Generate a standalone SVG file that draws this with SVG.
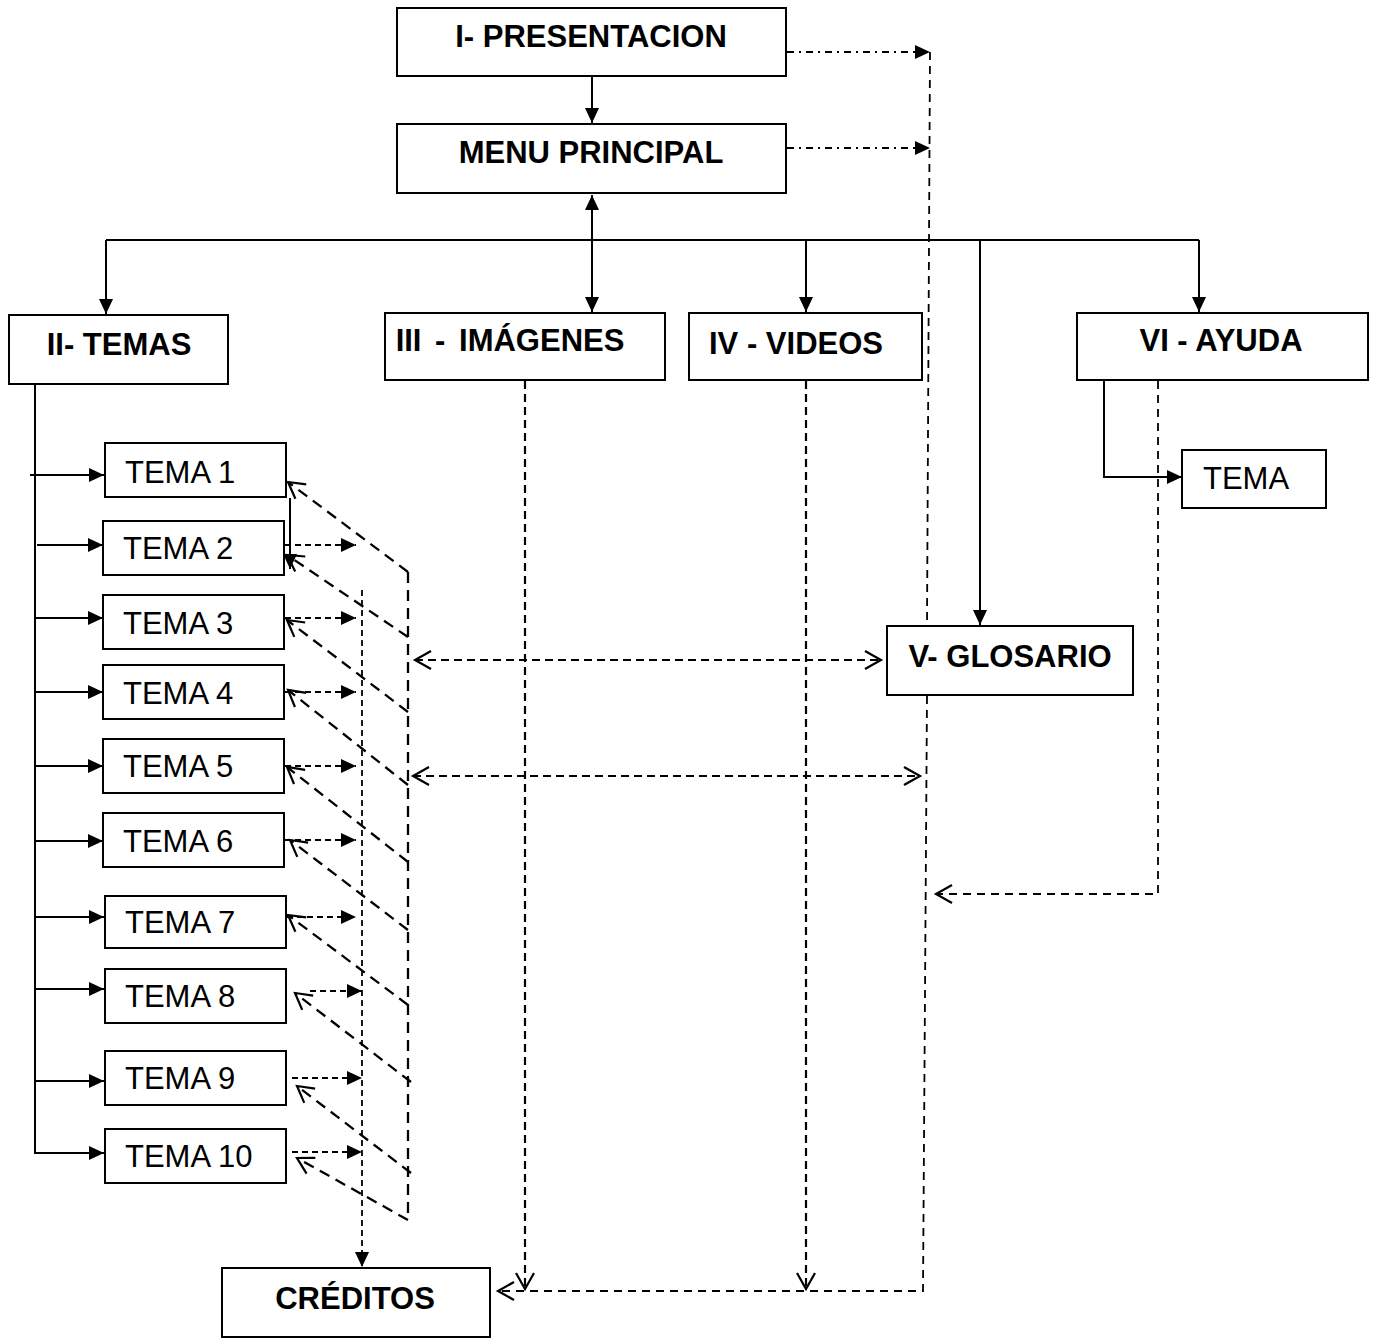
<svg xmlns="http://www.w3.org/2000/svg" width="1377" height="1339" viewBox="0 0 1377 1339">
  <style>
    rect.box { fill: #fff; stroke: #000; stroke-width: 2; }
    text { font-family: "Liberation Sans", Arial, sans-serif; fill: #000; }
    text.h { font-size: 31px; font-weight: bold; text-anchor: middle; }
    text.t { font-size: 31px; }
    .solid { stroke: #000; stroke-width: 2; fill: none; }
    .dash { stroke: #000; stroke-width: 2.2; fill: none; stroke-dasharray: 8 5; }
    .diag { stroke: #000; stroke-width: 2.3; fill: none; stroke-dasharray: 11 7; }
    .fine { stroke: #000; stroke-width: 1.8; fill: none; stroke-dasharray: 6 4; }
    .side { stroke: #000; stroke-width: 1.8; fill: none; stroke-dasharray: 8 6; }
    .dashdot { stroke: #000; stroke-width: 2; fill: none; stroke-dasharray: 7 5 2 5; }
  </style>
  <defs>
    <marker id="fill" viewBox="0 0 15 14" refX="15" refY="7" markerWidth="15" markerHeight="14" markerUnits="userSpaceOnUse" orient="auto-start-reverse">
      <path d="M0,0 L15,7 L0,14 z" fill="#000" stroke="none"/>
    </marker>
    <marker id="open" viewBox="-2 -2 20 22" refX="16" refY="9" markerWidth="20" markerHeight="22" markerUnits="userSpaceOnUse" orient="auto-start-reverse" overflow="visible">
      <path d="M0,0 L16,9 L0,18" fill="none" stroke="#000" stroke-width="2.2" stroke-dasharray="none"/>
    </marker>
  </defs>

  <g id="connectors">
    <!-- main menu chain -->
    <line class="solid" x1="592" y1="77" x2="592" y2="123" marker-end="url(#fill)"/>
    <line class="solid" x1="592" y1="195" x2="592" y2="312" marker-start="url(#fill)" marker-end="url(#fill)"/>
    <line class="solid" x1="106" y1="240" x2="1199" y2="240"/>
    <line class="solid" x1="106" y1="240" x2="106" y2="314" marker-end="url(#fill)"/>
    <line class="solid" x1="806" y1="240" x2="806" y2="312" marker-end="url(#fill)"/>
    <line class="solid" x1="1199" y1="240" x2="1199" y2="312" marker-end="url(#fill)"/>
    <line class="solid" x1="980" y1="240" x2="980" y2="625" marker-end="url(#fill)"/>

    <!-- presentation / menu side links -->
    <line class="dashdot" x1="787" y1="52" x2="930" y2="52" marker-end="url(#fill)"/>
    <line class="dashdot" x1="787" y1="148" x2="930" y2="148" marker-end="url(#fill)"/>
    <path class="side" d="M930,52 L927,626"/>
    <path class="side" d="M927,696 L923,1291 L498,1291" marker-end="url(#open)"/>

    <!-- images / videos to credits -->
    <line class="dash" x1="525" y1="381" x2="525" y2="1289" marker-end="url(#open)"/>
    <line class="dash" x1="806" y1="381" x2="806" y2="1289" marker-end="url(#open)"/>

    <!-- glossary links -->
    <line class="dash" x1="415" y1="660" x2="881" y2="660" marker-start="url(#open)" marker-end="url(#open)"/>
    <line class="dash" x1="413" y1="776" x2="920" y2="776" marker-start="url(#open)" marker-end="url(#open)"/>

    <!-- help -->
    <path class="solid" d="M1104,381 L1104,477 L1182,477" marker-end="url(#fill)"/>
    <path class="side" d="M1158,381 L1158,894 L936,894" marker-end="url(#open)"/>

    <!-- themes trunk -->
    <path class="solid" d="M35,385 L35,1153 L104,1153" marker-end="url(#fill)"/>
    <line class="solid" x1="30" y1="475" x2="104" y2="475" marker-end="url(#fill)"/>
    <line class="solid" x1="37" y1="545" x2="103" y2="545" marker-end="url(#fill)"/>
    <line class="solid" x1="35" y1="618" x2="103" y2="618" marker-end="url(#fill)"/>
    <line class="solid" x1="35" y1="692" x2="103" y2="692" marker-end="url(#fill)"/>
    <line class="solid" x1="35" y1="766" x2="103" y2="766" marker-end="url(#fill)"/>
    <line class="solid" x1="35" y1="841" x2="103" y2="841" marker-end="url(#fill)"/>
    <line class="solid" x1="35" y1="917" x2="104" y2="917" marker-end="url(#fill)"/>
    <line class="solid" x1="35" y1="989" x2="104" y2="989" marker-end="url(#fill)"/>
    <line class="solid" x1="35" y1="1081" x2="104" y2="1081" marker-end="url(#fill)"/>
    <line class="solid" x1="290" y1="498" x2="290" y2="569" marker-end="url(#fill)"/>

    <!-- themes to credits -->
    <line class="fine" x1="285" y1="545" x2="356" y2="545" marker-end="url(#fill)"/>
    <line class="fine" x1="285" y1="618" x2="356" y2="618" marker-end="url(#fill)"/>
    <line class="fine" x1="285" y1="692" x2="356" y2="692" marker-end="url(#fill)"/>
    <line class="fine" x1="285" y1="766" x2="356" y2="766" marker-end="url(#fill)"/>
    <line class="fine" x1="285" y1="840" x2="356" y2="840" marker-end="url(#fill)"/>
    <line class="fine" x1="287" y1="917" x2="356" y2="917" marker-end="url(#fill)"/>
    <line class="fine" x1="310" y1="991" x2="362" y2="991" marker-end="url(#fill)"/>
    <line class="fine" x1="292" y1="1078" x2="362" y2="1078" marker-end="url(#fill)"/>
    <line class="fine" x1="292" y1="1152" x2="362" y2="1152" marker-end="url(#fill)"/>
    <line class="fine" x1="362" y1="590" x2="362" y2="1267" marker-end="url(#fill)"/>

    <!-- themes to glossary -->
    <line class="diag" x1="408" y1="572" x2="408" y2="1220"/>
    <line class="diag" x1="408" y1="572" x2="288" y2="482" marker-end="url(#open)"/>
    <line class="diag" x1="408" y1="637" x2="287" y2="555" marker-end="url(#open)"/>
    <line class="diag" x1="408" y1="712" x2="287" y2="620" marker-end="url(#open)"/>
    <line class="diag" x1="408" y1="785" x2="288" y2="690" marker-end="url(#open)"/>
    <line class="diag" x1="408" y1="862" x2="287" y2="767" marker-end="url(#open)"/>
    <line class="diag" x1="408" y1="930" x2="290" y2="840" marker-end="url(#open)"/>
    <line class="diag" x1="408" y1="1005" x2="288" y2="915" marker-end="url(#open)"/>
    <line class="diag" x1="411" y1="1082" x2="295" y2="993" marker-end="url(#open)"/>
    <line class="diag" x1="411" y1="1173" x2="297" y2="1086" marker-end="url(#open)"/>
    <line class="diag" x1="408" y1="1220" x2="297" y2="1158" marker-end="url(#open)"/>
  </g>

  <g id="presentacion"><rect class="box" x="397" y="8" width="389" height="68"/><text class="h" x="591" y="47">I- PRESENTACION</text></g>
  <g id="menu"><rect class="box" x="397" y="124" width="389" height="69"/><text class="h" x="591" y="163">MENU PRINCIPAL</text></g>
  <g id="temas"><rect class="box" x="9" y="315" width="219" height="69"/><text class="h" x="119" y="355">II- TEMAS</text></g>
  <g id="imagenes"><rect class="box" x="385" y="313" width="280" height="67"/><text class="h" x="510" y="351" word-spacing="5">III - IMÁGENES</text></g>
  <g id="videos"><rect class="box" x="689" y="313" width="233" height="67"/><text class="h" x="796" y="354">IV - VIDEOS</text></g>
  <g id="ayuda"><rect class="box" x="1077" y="313" width="291" height="67"/><text class="h" x="1221" y="351">VI - AYUDA</text></g>
  <g id="ayuda-tema"><rect class="box" x="1182" y="450" width="144" height="58"/><text class="t" x="1203" y="489">TEMA</text></g>
  <g id="glosario"><rect class="box" x="887" y="626" width="246" height="69"/><text class="h" x="1010" y="667">V- GLOSARIO</text></g>
  <g id="creditos"><rect class="box" x="222" y="1268" width="268" height="69"/><text class="h" x="355" y="1309">CRÉDITOS</text></g>

  <g id="tema1"><rect class="box" x="105" y="443" width="181" height="54"/><text class="t" x="125" y="483">TEMA 1</text></g>
  <g id="tema2"><rect class="box" x="103" y="521" width="181" height="54"/><text class="t" x="123" y="559">TEMA 2</text></g>
  <g id="tema3"><rect class="box" x="103" y="595" width="181" height="54"/><text class="t" x="123" y="634">TEMA 3</text></g>
  <g id="tema4"><rect class="box" x="103" y="665" width="181" height="54"/><text class="t" x="123" y="704">TEMA 4</text></g>
  <g id="tema5"><rect class="box" x="103" y="739" width="181" height="54"/><text class="t" x="123" y="777">TEMA 5</text></g>
  <g id="tema6"><rect class="box" x="103" y="813" width="181" height="54"/><text class="t" x="123" y="852">TEMA 6</text></g>
  <g id="tema7"><rect class="box" x="105" y="896" width="181" height="52"/><text class="t" x="125" y="933">TEMA 7</text></g>
  <g id="tema8"><rect class="box" x="105" y="969" width="181" height="54"/><text class="t" x="125" y="1007">TEMA 8</text></g>
  <g id="tema9"><rect class="box" x="105" y="1051" width="181" height="54"/><text class="t" x="125" y="1089">TEMA 9</text></g>
  <g id="tema10"><rect class="box" x="105" y="1129" width="181" height="54"/><text class="t" x="125" y="1167">TEMA 10</text></g>
</svg>
